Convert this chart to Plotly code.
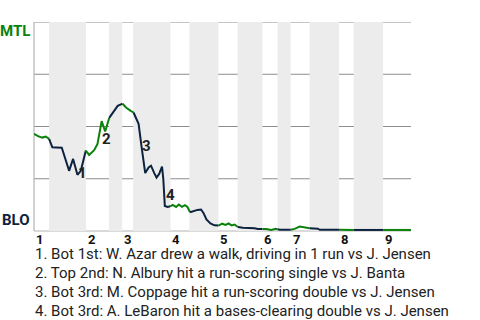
import plotly.graph_objects as go

# ---- data -------------------------------------------------------------
# play-by-play position (event number along the game) and MTL win probability (%)
play = [0.0, 1.06, 2.2, 3.1, 4.0,
        4.87, 5.85, 7.37, 9.31, 10.37, 11.52, 12.42, 13.75,
        14.63, 15.96, 16.84, 17.95, 18.88, 19.95,
        21.28, 22.2, 23.06, 23.48,
        24.4, 25.66, 26.4,
        27.05, 27.74, 28.6, 29.5, 30.4, 31.04, 31.9, 32.5, 33.2, 33.96, 34.3, 34.7, 35.45, 36.17,
        36.78, 37.69, 38.43, 39.23, 40.03, 40.7, 41.4,
        42.3, 43.35, 44.3, 44.95, 45.74, 46.8, 47.87, 48.94,
        49.9, 50.8, 51.6, 52.4, 53.2, 54.07,
        55.4, 58.5, 59.4, 60.6,
        61.6, 62.95, 64.1, 64.6,
        65.2, 68.1,
        69.1, 70.5, 71.8, 73.1,
        74.5, 75.3, 75.8, 80.9,
        84.8, 92.6, 100.0]
mtl_wp = [46.5, 45.4, 44.7, 45.2, 44.1,
          40.0, 39.9, 39.8, 28.8, 34.5, 26.9, 28.8, 38.5,
          36.4, 38.7, 41.7, 52.6, 47.6, 54.1,
          57.7, 59.9, 60.6, 60.9,
          59.1, 57.5, 56.7,
          54.1, 51.3, 39.4, 27.7, 30.4, 31.25, 27.7, 25.6, 27.3, 30.8, 24.9, 12.0, 11.5, 11.8,
          12.5, 11.5, 12.7, 11.6, 12.4, 11.5, 9.0,
          9.6, 10.1, 10.3, 8.65, 5.5, 3.6, 2.7, 2.6,
          3.5, 2.9, 3.6, 2.7, 3.1, 1.9,
          1.6, 1.3, 1.0, 1.0,
          1.0, 0.5, 1.1, 0.8,
          0.6, 0.6,
          1.0, 2.1, 1.6, 1.3,
          1.3, 1.1, 0.6, 0.6,
          0.5, 0.5, 0.5]

# start of each half inning (top 1st, bot 1st, top 2nd, ...) and end of game
half_starts = [0, 4.0, 13.8, 19.9, 23.4, 26.3, 36.2, 41.2, 48.9, 54.0,
               60.6, 64.6, 68.1, 73.1, 80.9, 84.8, 92.6]
game_end = 100
inning_labels = ["1", "2", "3", "4", "5", "6", "7", "8", "9"]

teams = ["MTL", "BLO"]
team_colors = ["#0a820a", "#0c2340"]

event_point = [10, 17, 28, 37]
event_marks = ["1", "2", "3", "4"]
event_text = [
    "1. Bot 1st: W. Azar drew a walk, driving in 1 run vs J. Jensen",
    "2. Top 2nd: N. Albury hit a run-scoring single vs J. Banta",
    "3. Bot 3rd: M. Coppage hit a run-scoring double vs J. Jensen",
    "4. Bot 3rd: A. LeBaron hit a bases-clearing double vs J. Jensen",
]

# ---- figure -----------------------------------------------------------
FONT = "Roboto, Arial, sans-serif"
fig = go.Figure()


def half_of(x):
    h = 0
    for j, s in enumerate(half_starts):
        if s <= x:
            h = j
    return h


# group segments by half inning (colour by batting team)
groups = []
for i in range(1, len(play)):
    h = half_of((play[i - 1] + play[i]) / 2)
    if groups and groups[-1][0] == h:
        groups[-1][1].append(i)
    else:
        groups.append([h, [i - 1, i]])

for h, idx in groups:
    fig.add_trace(go.Scatter(
        x=[play[k] for k in idx],
        y=[mtl_wp[k] / 100 for k in idx],
        mode="lines",
        line=dict(color=team_colors[h % 2], width=2),
        hoverinfo="skip",
        showlegend=False,
    ))

shapes = []
ends = half_starts[1:] + [game_end]
for h, (s, e) in enumerate(zip(half_starts, ends)):
    if h % 2 == 1:
        shapes.append(dict(type="rect", xref="x", yref="y", x0=s, x1=e, y0=0, y1=1,
                           fillcolor="#ececec", line=dict(width=0), layer="below"))
for g in [0.25, 0.5, 0.75, 1.0]:
    shapes.append(dict(type="line", xref="paper", yref="y", x0=0, x1=1, y0=g, y1=g,
                       line=dict(color="#8c8c8c", width=1.2), layer="below"))
shapes.append(dict(type="line", xref="paper", yref="paper", x0=0, x1=0, y0=0, y1=1,
                   line=dict(color="#b4b4b4", width=1.2), layer="below"))
shapes.append(dict(type="line", xref="paper", yref="paper", x0=0, x1=1, y0=0, y1=0,
                   line=dict(color="#b4b4b4", width=1.2), layer="below"))

ann = []
ann.append(dict(text="<b>MTL</b>", xref="paper", yref="paper", x=0, y=1,
                xanchor="right", yanchor="top", xshift=-2, yshift=2, showarrow=False,
                font=dict(family=FONT, size=15, color=team_colors[0])))
ann.append(dict(text="<b>BLO</b>", xref="paper", yref="paper", x=0, y=0,
                xanchor="right", yanchor="bottom", xshift=-2, yshift=0, showarrow=False,
                font=dict(family=FONT, size=15, color=team_colors[1])))
for k, lab in enumerate(inning_labels):
    ann.append(dict(text="<b>" + lab + "</b>", xref="x", yref="paper", x=half_starts[2 * k], y=0,
                    xanchor="left", yanchor="middle", xshift=0, yshift=-8, showarrow=False,
                    font=dict(family=FONT, size=13, color="#111111")))
offsets = [(5, 2), (1, -7), (4.5, 3), (5.5, 10.5)]
for p, m, (dx, dy) in zip(event_point, event_marks, offsets):
    ann.append(dict(text="<b>" + m + "</b>", xref="x", yref="y", x=play[p], y=mtl_wp[p] / 100,
                    xanchor="center", yanchor="middle", xshift=dx, yshift=dy, showarrow=False,
                    font=dict(family=FONT, size=15, color="#222222")))
for k, t in enumerate(event_text):
    ann.append(dict(text=t, xref="paper", yref="paper", x=0, y=0,
                    xanchor="left", yanchor="middle", xshift=-1, yshift=-(22.5 + 19.3 * k),
                    showarrow=False, font=dict(family=FONT, size=15, color="#222222")))

fig.update_layout(
    width=480, height=320,
    margin=dict(l=34, r=69, t=22, b=89),
    paper_bgcolor="white", plot_bgcolor="white",
    xaxis=dict(range=[0, game_end], showgrid=False, zeroline=False, showticklabels=False,
               ticks="", showline=False, fixedrange=True),
    yaxis=dict(range=[0, 1], showgrid=False, zeroline=False, showticklabels=False,
               ticks="", showline=False, fixedrange=True),
    shapes=shapes,
    annotations=ann,
    showlegend=False,
)

fig.write_html("out.html", config={"displayModeBar": False})
